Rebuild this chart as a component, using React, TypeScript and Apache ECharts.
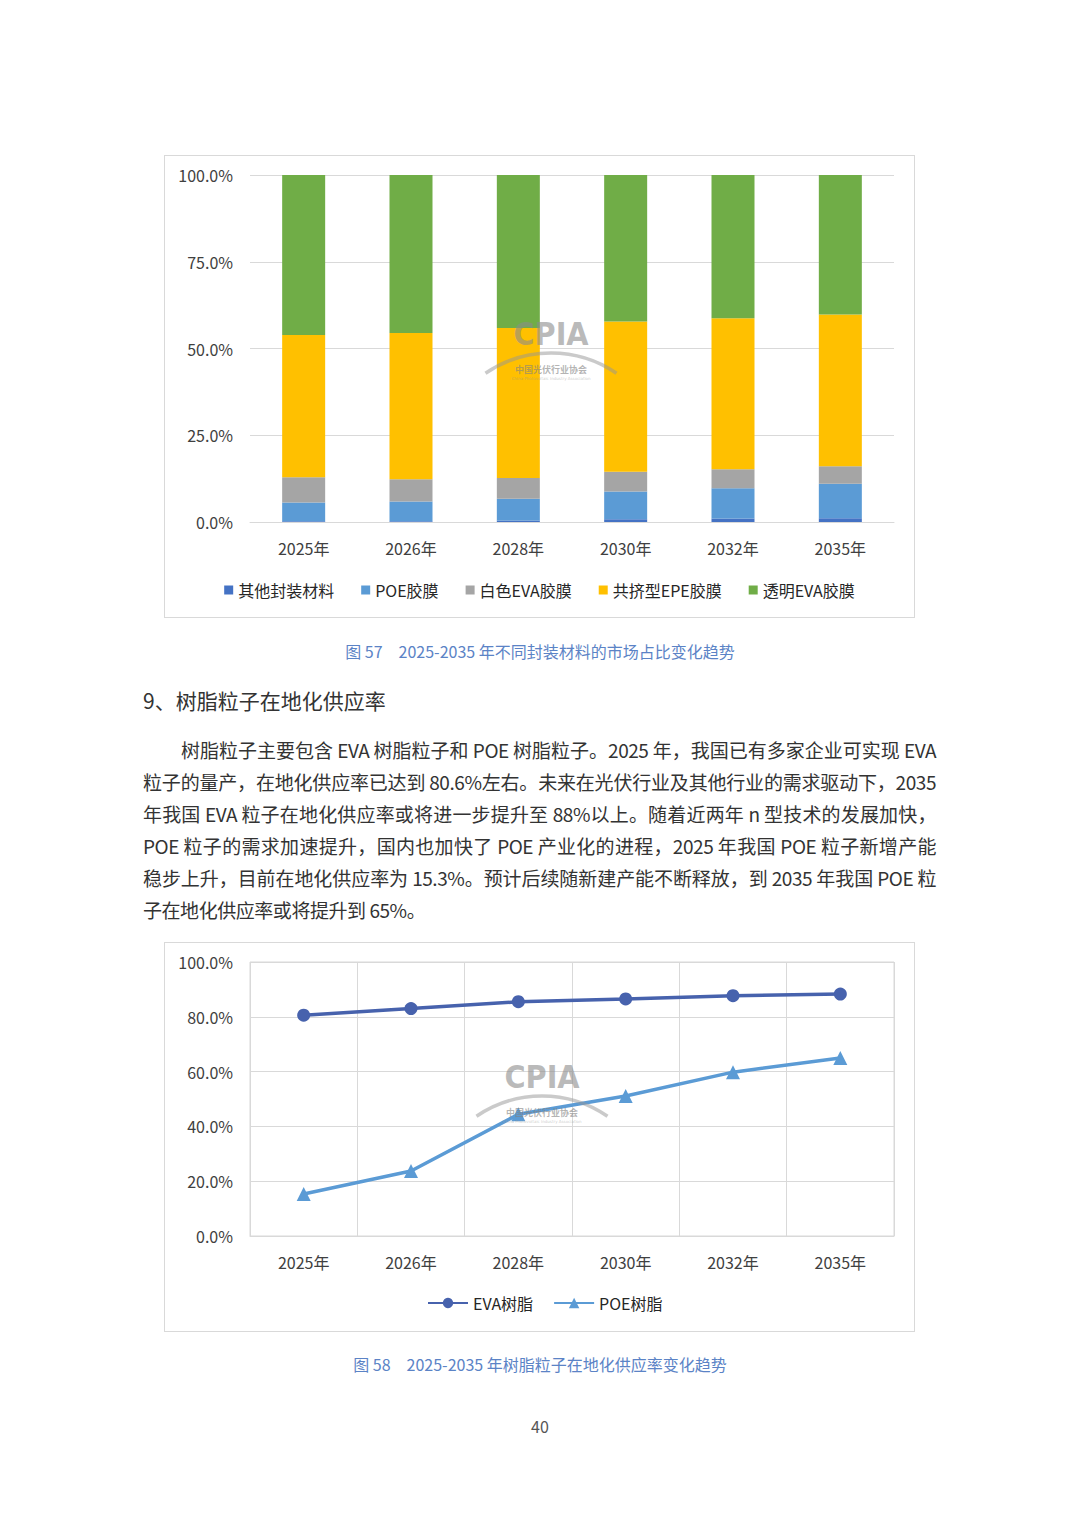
import React, { useEffect, useRef } from "react";
import * as echarts from "echarts";

// ---------- data ----------
const years = ["2025年", "2026年", "2028年", "2030年", "2032年", "2035年"];
// stacked market share (%), bottom to top
const otherFilm = [0.2, 0.2, 0.4, 0.8, 1.0, 1.1];
const poeFilm = [5.4, 5.7, 6.3, 8.0, 8.7, 9.9];
const whiteEvaFilm = [7.3, 6.4, 6.0, 5.7, 5.5, 5.1];
const epeFilm = [41.0, 42.2, 43.2, 43.3, 43.5, 43.7];
const clearEvaFilm = [46.1, 45.5, 44.1, 42.2, 41.3, 40.2];
const barSeriesNames = ["其他封装材料", "POE胶膜", "白色EVA胶膜", "共挤型EPE胶膜", "透明EVA胶膜"];
// localisation rate (%)
const evaResin = [80.6, 83.0, 85.5, 86.5, 87.7, 88.3];
const poeResin = [15.3, 23.7, 44.4, 51.1, 59.8, 65.0];
const lineSeriesNames = ["EVA树脂", "POE树脂"];

const caption57 = "图 57　2025-2035 年不同封装材料的市场占比变化趋势";
const caption58 = "图 58　2025-2035 年树脂粒子在地化供应率变化趋势";
const heading = "9、树脂粒子在地化供应率";
const paragraphLines = [
  "树脂粒子主要包含 EVA 树脂粒子和 POE 树脂粒子。2025 年，我国已有多家企业可实现 EVA",
  "粒子的量产，在地化供应率已达到 80.6%左右。未来在光伏行业及其他行业的需求驱动下，2035",
  "年我国 EVA 粒子在地化供应率或将进一步提升至 88%以上。随着近两年 n 型技术的发展加快，",
  "POE 粒子的需求加速提升，国内也加快了 POE 产业化的进程，2025 年我国 POE 粒子新增产能",
  "稳步上升，目前在地化供应率为 15.3%。预计后续随新建产能不断释放，到 2035 年我国 POE 粒",
  "子在地化供应率或将提升到 65%。",
];

const FONT = '"Noto Sans CJK SC", "Noto Sans", sans-serif';
const barColors = ["#4472C4", "#5B9BD5", "#A5A5A5", "#FFC000", "#70AD47"];
const lineColors = ["#4762AD", "#5B9BD5"];

function watermark(cx: number, cy: number) {
  return [
    {
      type: "arc",
      shape: { cx: cx, cy: cy + 135, r: 116, startAngle: Math.PI * 1.5 - 0.6, endAngle: Math.PI * 1.5 + 0.6 },
      style: { stroke: "rgba(150,150,150,0.5)", lineWidth: 3.5, fill: null },
      z: 100,
    },
    {
      type: "text",
      x: cx,
      y: cy,
      style: {
        text: "CPIA",
        fill: "rgba(140,140,140,0.6)",
        font: 'bold 32px "DejaVu Sans Condensed", "Liberation Sans Narrow", sans-serif',
        align: "center",
        verticalAlign: "middle",
      },
      z: 100,
    },
    {
      type: "text",
      x: cx,
      y: cy + 35,
      style: {
        text: "中国光伏行业协会",
        fill: "rgba(130,130,130,0.6)",
        font: 'bold 9px "Noto Sans CJK SC", sans-serif',
        align: "center",
        verticalAlign: "middle",
      },
      z: 100,
    },
    {
      type: "text",
      x: cx,
      y: cy + 44,
      style: {
        text: "China Photovoltaic Industry Association",
        fill: "rgba(150,150,150,0.5)",
        font: '4px "DejaVu Sans", sans-serif',
        align: "center",
        verticalAlign: "middle",
      },
      z: 100,
    },
  ];
}

function useChart(option: any) {
  const ref = useRef<HTMLDivElement>(null);
  useEffect(() => {
    if (!ref.current) return;
    const chart = echarts.init(ref.current, undefined, { renderer: "svg" });
    chart.setOption(option);
    return () => chart.dispose();
  }, []);
  return ref;
}

const axisLabelStyle = { fontSize: 16, color: "#404040", fontFamily: FONT };

const barOption = {
  animation: false,
  textStyle: { fontFamily: FONT },
  grid: { left: 85, right: 20, top: 19, bottom: 95 },
  legend: {
    data: barSeriesNames,
    left: "center",
    top: 421,
    icon: "rect",
    itemWidth: 9,
    itemHeight: 9,
    itemGap: 27,
    textStyle: { fontSize: 16, color: "#262626", fontFamily: FONT },
  },
  xAxis: {
    type: "category",
    data: years,
    axisTick: { show: false },
    axisLine: { lineStyle: { color: "#d9d9d9", width: 1 } },
    axisLabel: { ...axisLabelStyle, margin: 18 },
  },
  yAxis: {
    type: "value",
    min: 0,
    max: 100,
    interval: 25,
    axisLabel: { ...axisLabelStyle, margin: 17, formatter: (v: number) => v.toFixed(1) + "%" },
    splitLine: { lineStyle: { color: "#d9d9d9" } },
    axisLine: { show: false },
    axisTick: { show: false },
  },
  series: [otherFilm, poeFilm, whiteEvaFilm, epeFilm, clearEvaFilm].map((d, i) => ({
    name: barSeriesNames[i],
    type: "bar",
    stack: "total",
    data: d,
    barWidth: 43,
    itemStyle: { color: barColors[i] },
  })),
  graphic: watermark(386, 178),
};

const lineOption = {
  animation: false,
  textStyle: { fontFamily: FONT },
  grid: { left: 85, right: 20, top: 19, bottom: 95, show: true, borderColor: "#d9d9d9", borderWidth: 1 },
  legend: {
    data: lineSeriesNames,
    left: 257,
    top: 347,
    itemWidth: 40,
    itemHeight: 13,
    itemGap: 20,
    textStyle: { fontSize: 16, color: "#262626", fontFamily: FONT },
  },
  xAxis: {
    type: "category",
    data: years,
    axisTick: { show: false },
    axisLine: { lineStyle: { color: "#d9d9d9", width: 1 } },
    axisLabel: { ...axisLabelStyle, margin: 18 },
    splitLine: { show: true, lineStyle: { color: "#d9d9d9" } },
  },
  yAxis: {
    type: "value",
    min: 0,
    max: 100,
    interval: 20,
    axisLabel: { ...axisLabelStyle, margin: 17, formatter: (v: number) => v.toFixed(1) + "%" },
    splitLine: { lineStyle: { color: "#d9d9d9" } },
    axisLine: { show: false },
    axisTick: { show: false },
  },
  series: [
    {
      name: lineSeriesNames[0],
      type: "line",
      data: evaResin,
      symbol: "circle",
      symbolSize: 13,
      lineStyle: { color: lineColors[0], width: 3.5 },
      itemStyle: { color: lineColors[0] },
    },
    {
      name: lineSeriesNames[1],
      type: "line",
      data: poeResin,
      symbol: "triangle",
      symbolSize: 14,
      lineStyle: { color: lineColors[1], width: 3.5 },
      itemStyle: { color: lineColors[1] },
    },
  ],
  graphic: watermark(377, 134),
};

export default function App() {
  const barRef = useChart(barOption);
  const lineRef = useChart(lineOption);
  const frame: React.CSSProperties = {
    position: "absolute",
    left: 164,
    width: 751,
    border: "1px solid #d9d9d9",
    boxSizing: "border-box",
    background: "#fff",
  };
  const caption: React.CSSProperties = {
    position: "absolute",
    left: 0,
    width: 1080,
    textAlign: "center",
    fontSize: 16,
    lineHeight: "24px",
    color: "#5b83c6",
    fontFamily: FONT,
    whiteSpace: "pre",
  };
  return (
    <div
      style={{
        position: "absolute",
        left: 0,
        top: 0,
        width: 1080,
        height: 1527,
        background: "#fff",
        fontFamily: FONT,
        overflow: "hidden",
      }}
    >
      <div ref={barRef} style={{ ...frame, top: 155, height: 463 }} />
      <div style={{ ...caption, top: 639 }}>{caption57}</div>
      <div
        style={{
          position: "absolute",
          left: 143,
          top: 686,
          fontSize: 21,
          lineHeight: "28px",
          color: "#333",
          whiteSpace: "pre",
        }}
      >
        {heading}
      </div>
      {paragraphLines.map((line, i) => {
        const last = i === paragraphLines.length - 1;
        return (
          <div
            key={i}
            style={{
              position: "absolute",
              left: i === 0 ? 181 : 143,
              width: i === 0 ? 755 : 793,
              top: 734 + i * 32,
              height: 32,
              lineHeight: "32px",
              fontSize: 19,
              letterSpacing: "-0.45px",
              color: "#333",
              textAlign: last ? "left" : "justify",
              textAlignLast: last ? "left" : "justify",
              whiteSpace: "nowrap",
              overflow: "visible",
            }}
          >
            {line}
          </div>
        );
      })}
      <div ref={lineRef} style={{ ...frame, top: 942, height: 390 }} />
      <div style={{ ...caption, top: 1352 }}>{caption58}</div>
      <div
        style={{
          position: "absolute",
          left: 0,
          width: 1080,
          top: 1414,
          textAlign: "center",
          fontSize: 16,
          lineHeight: "24px",
          color: "#555",
        }}
      >
        40
      </div>
    </div>
  );
}
